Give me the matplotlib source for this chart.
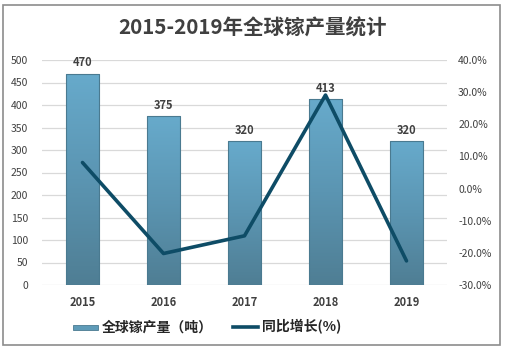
import numpy as np
import matplotlib
matplotlib.use('Agg')
import matplotlib.pyplot as plt
from matplotlib.patches import Rectangle
from matplotlib.colors import LinearSegmentedColormap
from matplotlib.legend_handler import HandlerBase

plt.rcParams['font.family'] = ['Noto Sans CJK SC', 'DejaVu Sans']

years = ['2015', '2016', '2017', '2018', '2019']
output = [470, 375, 320, 413, 320]
growth = [8.1, -20.2, -14.7, 29.1, -22.5]

title = '2015-2019年全球镓产量统计'
bar_label = '全球镓产量（吨）'
line_label = '同比增长(%)'

txt = '#404040'
cmap = LinearSegmentedColormap.from_list('bar', ['#4F7E94', '#5B95B2', '#67AACB'])

fig = plt.figure(figsize=(5.05, 3.51), dpi=100)
fig.patches.append(Rectangle((3 / 505, 6 / 351), 497 / 505, 340 / 351, transform=fig.transFigure,
                             fill=False, edgecolor='#8C8C8C', linewidth=1.2))
ax = fig.add_axes([42 / 505, (351 - 285) / 351, 405 / 505, 225 / 351])

x = np.arange(len(years))
w = 0.41
bars = ax.bar(x, output, width=w, color='#5E9BB8', edgecolor='#4A7A90', linewidth=0.8, zorder=2)
grad = np.linspace(0, 1, 100).reshape(-1, 1)
for b in bars:
    im = ax.imshow(grad, cmap=cmap, aspect='auto', origin='lower',
                   extent=[b.get_x(), b.get_x() + b.get_width(), 0, b.get_height()], zorder=2)
    im.set_clip_path(b)
    b.set_facecolor('none')
    b.set_zorder(3)
    ax.text(b.get_x() + b.get_width() / 2, b.get_height() + 10, str(b.get_height()),
            ha='center', va='bottom', fontsize=8, fontweight='bold', color=txt)

ax.set_xlim(-0.5, len(years) - 0.5)
ax.set_ylim(0, 500)
ax.set_yticks(range(0, 501, 50))
ax.set_xticks(x)
ax.set_xticklabels(years, fontsize=8, fontweight='bold', color=txt)
ax.tick_params(axis='y', labelsize=7.5, labelcolor=txt, length=0, pad=10)
ax.tick_params(axis='x', length=0, pad=8)
ax.grid(axis='y', color='#D9D9D9', linewidth=0.9, zorder=0)
ax.set_axisbelow(True)
for s in ax.spines.values():
    s.set_visible(False)

ax2 = ax.twinx()
ax2.plot(x, growth, color='#0E4C66', linewidth=2.6, solid_capstyle='round', zorder=4)
ax2.set_ylim(-30, 40)
ax2.set_yticks(range(-30, 41, 10))
ax2.set_yticklabels(['%.1f%%' % v for v in range(-30, 41, 10)])
ax2.tick_params(axis='y', labelsize=7.5, labelcolor=txt, length=0, pad=8)
for s in ax2.spines.values():
    s.set_visible(False)

fig.text(0.5, (351 - 28) / 351, title, ha='center', va='center', fontsize=14.8,
         fontweight='bold', color='#404040')


class GradHandler(HandlerBase):
    def create_artists(self, legend, orig, xd, yd, width, height, fontsize, trans):
        r = Rectangle((xd, yd + height * 0.15), width, height * 0.55, facecolor='#5E9BB8',
                      edgecolor='#4A7A90', linewidth=0.6, transform=trans)
        return [r]


h1 = Rectangle((0, 0), 1, 1)
h2, = ax2.plot([], [], color='#0E4C66', linewidth=2.6)
leg = fig.legend([h1, h2], [bar_label, line_label], loc='center', bbox_to_anchor=(207 / 505, (351 - 327) / 351),
                 ncol=2, frameon=False, handler_map={Rectangle: GradHandler()},
                 prop={'size': 10, 'weight': 'bold'}, handlelength=1.8, columnspacing=1.4,
                 handletextpad=0.3)
for t in leg.get_texts():
    t.set_color('#262626')

fig.savefig('out.png', dpi=100)
